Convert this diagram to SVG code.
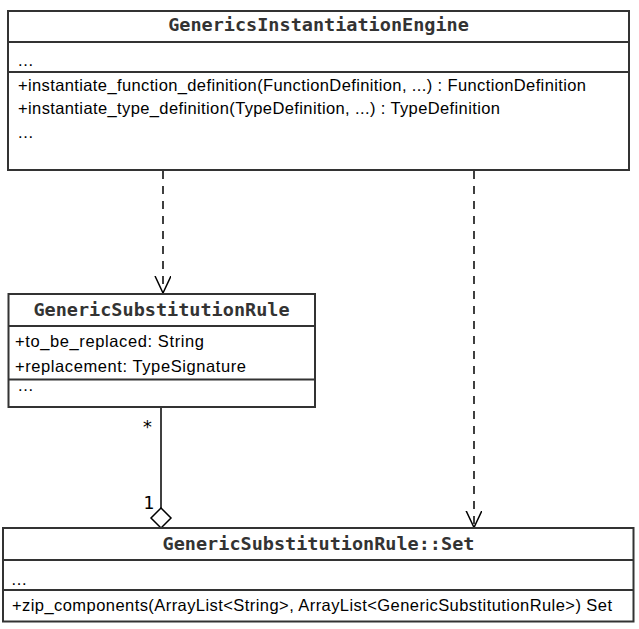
<svg xmlns="http://www.w3.org/2000/svg" width="639" height="629" viewBox="0 0 639 629">
<style>
.box{fill:#fff;stroke:#333;stroke-width:2}
.sep{stroke:#333;stroke-width:2}
.title{font-family:"DejaVu Sans Mono",monospace;font-weight:bold;font-size:18.5px;fill:#333;text-anchor:middle}
.txt{font-family:"Liberation Sans",Arial,sans-serif;font-size:16.5px;fill:#000}
.dash{stroke:#000;stroke-width:1.5;stroke-dasharray:8 7;fill:none}
.solid{stroke:#000;stroke-width:1.5;fill:none}
.lbl{font-family:"DejaVu Sans Mono",monospace;font-size:18px;fill:#000}
</style>
<defs>
<marker id="open" markerWidth="20" markerHeight="20" refX="17" refY="8" orient="auto" markerUnits="userSpaceOnUse">
<path d="M0,0 L17,8 L0,16" fill="none" stroke="#000" stroke-width="1.5"/>
</marker>
</defs>
<rect width="639" height="629" fill="#fff"/>
<g id="connectors">
<line class="dash" x1="163" y1="171" x2="163" y2="293" marker-end="url(#open)"/>
<line class="dash" x1="474" y1="171" x2="474" y2="527.5" marker-end="url(#open)"/>
<line class="solid" x1="161" y1="407" x2="161" y2="508"/>
<path class="solid" d="M161,508 L171,518 L161,528 L151,518 Z" fill="#fff"/>
<text class="lbl" x="147.5" y="433" text-anchor="middle">*</text>
<text class="lbl" x="154" y="509" text-anchor="end">1</text>
</g>
<g id="GenericsInstantiationEngine">
<rect class="box" x="8" y="11" width="621" height="159"/>
<line class="sep" x1="8" y1="42" x2="629" y2="42"/>
<line class="sep" x1="8" y1="72" x2="629" y2="72"/>
<text class="title" x="318.5" y="31">GenericsInstantiationEngine</text>
<text class="txt" x="18" y="66" textLength="15">...</text>
<text class="txt" x="18" y="90.5" textLength="568">+instantiate_function_definition(FunctionDefinition, ...) : FunctionDefinition</text>
<text class="txt" x="18" y="114" textLength="482">+instantiate_type_definition(TypeDefinition, ...) : TypeDefinition</text>
<text class="txt" x="18" y="138" textLength="15">...</text>
</g>
<g id="GenericSubstitutionRule">
<rect class="box" x="8.5" y="294" width="306.5" height="113"/>
<line class="sep" x1="8.5" y1="326" x2="315" y2="326"/>
<line class="sep" x1="8.5" y1="379.5" x2="315" y2="379.5"/>
<text class="title" x="161.5" y="316">GenericSubstitutionRule</text>
<text class="txt" x="15" y="347" textLength="189">+to_be_replaced: String</text>
<text class="txt" x="15" y="371.5" textLength="231">+replacement: TypeSignature</text>
<text class="txt" x="18" y="391" textLength="15">...</text>
</g>
<g id="GenericSubstitutionRuleSet">
<rect class="box" x="3" y="528" width="630.5" height="93.5"/>
<line class="sep" x1="3" y1="560" x2="633.5" y2="560"/>
<line class="sep" x1="3" y1="590" x2="633.5" y2="590"/>
<text class="title" x="318.5" y="550">GenericSubstitutionRule::Set</text>
<text class="txt" x="11.5" y="585" textLength="15">...</text>
<text class="txt" x="12" y="610.5" textLength="600">+zip_components(ArrayList&lt;String&gt;, ArrayList&lt;GenericSubstitutionRule&gt;) Set</text>
</g>
</svg>
